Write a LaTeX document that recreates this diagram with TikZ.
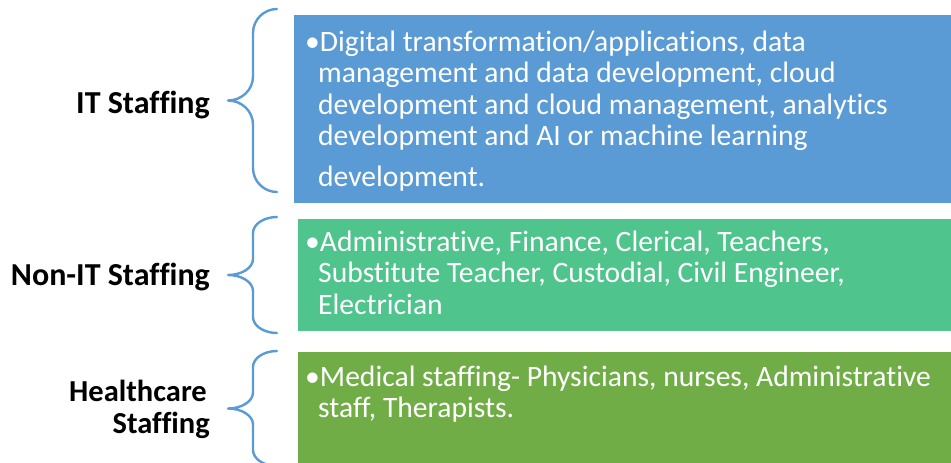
\documentclass[tikz,border=0pt]{standalone}
\usepackage{fontspec}
\setmainfont{Carlito}[Ligatures=NoCommon]
\definecolor{itblue}{HTML}{5B9BD5}
\definecolor{nongreen}{HTML}{4FC48C}
\definecolor{hcgreen}{HTML}{70AD47}
\tikzset{
  boxline/.style={text=white, inner sep=0pt, anchor=base west, font=\fontsize{29.6}{32}\selectfont},
  catlabel/.style={text=black, inner sep=0pt, anchor=base east, font=\bfseries\fontsize{32}{34}\selectfont},
  hclabel/.style={catlabel, font=\bfseries\fontsize{30.5}{33}\selectfont},
  bracestyle/.style={draw=itblue, line width=2.4pt, line cap=round, line join=round}
}
\newcommand{\staffbrace}[3]{%
  \pgfmathsetmacro{\bt}{#1}%
  \pgfmathsetmacro{\bb}{#2}%
  \pgfmathsetmacro{\br}{#3}%
  \pgfmathsetmacro{\bm}{(#1+#2)/2}%
  \draw[bracestyle] (277,-\bt)
    .. controls (263.8,-\bt) and (253,{-\bt-0.448*\br}) .. (253,{-\bt-\br})
    -- (253,{-\bm+\br})
    .. controls (253,{-\bm+0.448*\br}) and (241.8,-\bm) .. (228,-\bm)
    .. controls (241.8,-\bm) and (253,{-\bm-0.448*\br}) .. (253,{-\bm-\br})
    -- (253,{-\bb+\br})
    .. controls (253,{-\bb+0.448*\br}) and (263.8,-\bb) .. (277,-\bb);
}
\begin{document}
\begin{tikzpicture}[x=1pt,y=1pt]
\useasboundingbox (0,0) rectangle (951,-463);
\fill[white] (0,0) rectangle (951,-463);
% boxes
\fill[itblue] (294,-15) rectangle (951,-203);
\fill[nongreen] (298,-219) rectangle (951,-331);
\fill[hcgreen] (298,-352) rectangle (951,-470);
% braces
\staffbrace{9}{192}{24}
\staffbrace{217}{333}{16}
\staffbrace{351}{466}{16}
% labels
\node[catlabel] (lit) at (210,-113) {IT Staffing};
\node[catlabel] (lnon) at (210,-285) {Non-IT Staffing};
\node[hclabel] (lhc1) at (207,-401) {Healthcare};
\node[hclabel] (lhc2) at (210,-433) {Staffing};
% IT box text
\node[boxline] (it1) at (305,-51) {•Digital transformation/applications, data};
\node[boxline] (it2) at (318,-82.5) {management and data development, cloud};
\node[boxline] (it3) at (318,-114) {development and cloud management, analytics};
\node[boxline] (it4) at (318,-145.5) {development and AI or machine learning};
\node[boxline] (it5) at (318,-186) {development.};
% Non-IT box text
\node[boxline] (nn1) at (305,-251) {•Administrative, Finance, Clerical, Teachers,};
\node[boxline] (nn2) at (318,-282.5) {Substitute Teacher, Custodial, Civil Engineer,};
\node[boxline] (nn3) at (318,-314) {Electrician};
% Healthcare box text
\node[boxline] (hc1) at (305,-386) {•Medical staffing- Physicians, nurses, Administrative};
\node[boxline] (hc2) at (318,-417.5) {staff, Therapists.};
\end{tikzpicture}
\end{document}
